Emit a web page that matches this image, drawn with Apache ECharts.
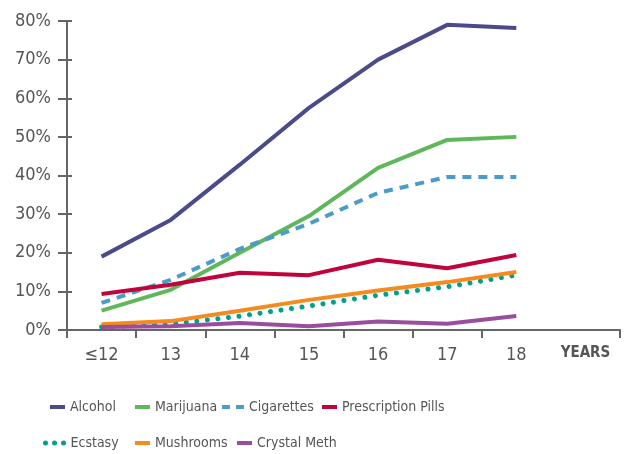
<!DOCTYPE html>
<html>
<head>
<meta charset="utf-8">
<script src="https://cdn.jsdelivr.net/npm/echarts@6/dist/echarts.min.js"></script>
<style>html,body{margin:0;padding:0;background:#fff}#c{width:634px;height:454px}</style>
</head>
<body>
<div id="c"></div>
<script>
var categories = ['≤12', '13', '14', '15', '16', '17', '18', 'YEARS'];
var yTicks = [0, 10, 20, 30, 40, 50, 60, 70, 80];
var alcohol = [19, 28.5, 42.8, 57.5, 70, 79, 78.2];
var marijuana = [5, 10.4, 20, 29.5, 42, 49.2, 50];
var cigarettes = [7, 13, 21, 27.5, 35.5, 39.6, 39.6];
var prescription = [9.3, 11.7, 14.8, 14.2, 18.2, 16, 19.4];
var ecstasy = [0.8, 1.5, 3.6, 6.2, 9, 11.2, 14.2];
var mushrooms = [1.5, 2.3, 5, 7.8, 10.2, 12.4, 15];
var crystalMeth = [0.8, 1, 1.8, 1, 2.2, 1.6, 3.6];

var FONT = "'DejaVu Sans Condensed', 'Liberation Sans Narrow', sans-serif";
var TXT = '#555';
var AX = '#666';

var COLORS = ['#4b4a8a', '#60b65a', '#4c9cc8', '#c2023c', '#00a08c', '#f58a1f', '#9a4d9e'];
var DASH = [9, 7];
var DOT = [0.01, 10.6];

function mk(name, data, color, type, width, cap) {
  return {
    name: name, type: 'line', data: data, symbol: 'none', showSymbol: false,
    lineStyle: {color: color, width: width || 4, type: type || 'solid', cap: cap || 'butt'},
    itemStyle: {color: color}
  };
}
var series = [
  mk('Alcohol', alcohol, COLORS[0]),
  mk('Marijuana', marijuana, COLORS[1]),
  mk('Cigarettes', cigarettes, COLORS[2], DASH),
  mk('Prescription Pills', prescription, COLORS[3]),
  mk('Ecstasy', ecstasy, COLORS[4], DOT, 5, 'round'),
  mk('Mushrooms', mushrooms, COLORS[5]),
  mk('Crystal Meth', crystalMeth, COLORS[6])
];
series[4].z = 3;

function lg(name, left, top, w, ls) {
  return {
    data: [name], left: left, top: top, itemWidth: w, itemHeight: 14,
    itemGap: 6, padding: 0, selectedMode: false,
    itemStyle: {opacity: 0},
    lineStyle: ls,
    textStyle: {fontFamily: FONT, fontSize: 14, color: TXT}
  };
}
var SOLID = {width: 4, type: 'solid', cap: 'butt'};

var chart = echarts.init(document.getElementById('c'), null, {renderer: 'canvas'});
chart.setOption({
  animation: false,
  backgroundColor: '#fff',
  grid: {left: 67, right: 14, top: 21, bottom: 124, containLabel: false},
  legend: [
    lg('Alcohol', 48, 400, 15, SOLID),
    lg('Marijuana', 133, 400, 15, SOLID),
    lg('Cigarettes', 220, 400, 22, {width: 4, type: [8, 6], cap: 'butt'}),
    lg('Prescription Pills', 320, 400, 15, SOLID),
    lg('Ecstasy', 43, 436, 20, {width: 5, type: [0.01, 9], cap: 'round'}),
    lg('Mushrooms', 133, 436, 15, SOLID),
    lg('Crystal Meth', 235, 436, 15, SOLID)
  ],
  xAxis: {
    type: 'category', data: categories, boundaryGap: true,
    axisLine: {lineStyle: {color: AX, width: 2}},
    axisTick: {show: true, length: 8, interval: function (i) { return i < 7; }, lineStyle: {color: AX, width: 2}},
    axisLabel: {
      interval: 0, margin: 16, fontFamily: FONT, fontSize: 18, color: TXT,
      formatter: function (v) { return v === 'YEARS' ? '{b|' + v + '}' : v; },
      rich: {b: {fontFamily: FONT, fontSize: 15, fontWeight: 'bold', color: TXT}}
    }
  },
  yAxis: [{
    type: 'value', min: yTicks[0], max: yTicks[yTicks.length - 1], interval: 10,
    splitLine: {show: false},
    axisLine: {show: true, lineStyle: {color: AX, width: 2}},
    axisTick: {show: true, length: 9, lineStyle: {color: AX, width: 2}},
    axisLabel: {margin: 16, fontFamily: FONT, fontSize: 18, color: TXT, formatter: '{value}%'}
  }, {
    type: 'value', min: yTicks[0], max: yTicks[yTicks.length - 1], interval: 10, position: 'left', offset: 0,
    splitLine: {show: false},
    axisLine: {show: true, lineStyle: {color: AX, width: 2}},
    axisTick: {show: true, inside: true, length: 5, lineStyle: {color: AX, width: 2}},
    axisLabel: {show: false}
  }],
  series: series
});
</script>
</body>
</html>
